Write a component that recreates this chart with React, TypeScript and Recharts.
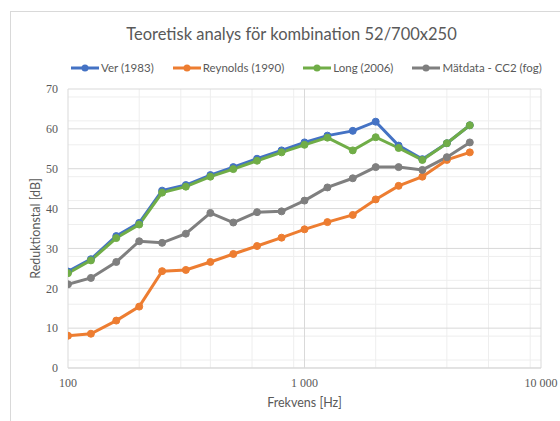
import React from 'react';
import { LineChart, Line, XAxis, YAxis, CartesianGrid, Label } from 'recharts';

const frequencies = [100, 125, 160, 200, 250, 315, 400, 500, 630, 800, 1000, 1250, 1600, 2000, 2500, 3150, 4000, 5000];
const ver = [24.2, 27.3, 33.1, 36.4, 44.5, 45.9, 48.4, 50.4, 52.5, 54.6, 56.6, 58.3, 59.5, 61.8, 55.8, 52.4, 56.4, 60.9];
const reynolds = [8.1, 8.6, 11.9, 15.4, 24.3, 24.6, 26.6, 28.6, 30.6, 32.7, 34.8, 36.6, 38.4, 42.3, 45.7, 48.0, 52.2, 54.1];
const long = [23.8, 27.0, 32.6, 36.0, 44.0, 45.5, 48.0, 49.9, 52.0, 54.1, 56.0, 57.8, 54.6, 57.9, 55.2, 52.2, 56.4, 60.9];
const matdata = [21.0, 22.6, 26.6, 31.8, 31.4, 33.7, 38.9, 36.5, 39.1, 39.3, 42.0, 45.3, 47.6, 50.4, 50.4, 49.7, 52.9, 56.6];

const xTicks = [100, 1000, 10000];
const xMinor = [200, 300, 400, 500, 600, 700, 800, 900, 2000, 3000, 4000, 5000, 6000, 7000, 8000, 9000];
const yTicks = [0, 10, 20, 30, 40, 50, 60, 70];
const yMinor = [2, 4, 6, 8, 12, 14, 16, 18, 22, 24, 26, 28, 32, 34, 36, 38, 42, 44, 46, 48, 52, 54, 56, 58, 62, 64, 66, 68];

const seriesNames = ['Ver (1983)', 'Reynolds (1990)', 'Long (2006)', 'Mätdata - CC2 (fog)'];
const seriesKeys = ['ver', 'reynolds', 'long', 'matdata'];
const seriesColors = ['#4472C4', '#ED7D31', '#70AD47', '#7F7F7F'];

const title = 'Teoretisk analys för kombination 52/700x250';
const xTitle = 'Frekvens [Hz]';
const yTitle = 'Reduktionstal [dB]';

const data = frequencies.map((f, i) => ({
  f,
  ver: ver[i],
  reynolds: reynolds[i],
  long: long[i],
  matdata: matdata[i],
}));

const fmt = (v: number) => String(v).replace(/\B(?=(\d{3})+(?!\d))/g, '\u00a0');

const SANS = 'Lato, "Liberation Sans", sans-serif';
const SERIF = '"Liberation Serif", serif';
const TEXT = '#595959';

export default function App() {
  return (
    <div style={{ position: 'absolute', left: 0, top: 0, width: 560, height: 421, background: '#fff', overflow: 'hidden' }}>
      <div style={{ position: 'absolute', left: 10, top: 11, width: 600, height: 500, border: '1px solid #d9d9d9', boxSizing: 'border-box' }} />
      <div style={{ position: 'absolute', left: 0, width: 583, top: 24, textAlign: 'center', fontFamily: SANS, fontSize: 16.5, color: TEXT, whiteSpace: 'nowrap' }}>
        {title}
      </div>
      <div style={{ position: 'absolute', left: 71, top: 61, display: 'flex', alignItems: 'center', fontFamily: SANS, fontSize: 11.5, color: TEXT, whiteSpace: 'nowrap' }}>
        {seriesNames.map((n, i) => (
          <div key={n} style={{ display: 'flex', alignItems: 'center', marginRight: 19 }}>
            <svg width={28} height={10} style={{ display: 'block' }}>
              <line x1={0} y1={5} x2={28} y2={5} stroke={seriesColors[i]} strokeWidth={3} />
              <circle cx={14} cy={5} r={3.5} fill={seriesColors[i]} />
            </svg>
            <span style={{ marginLeft: 2 }}>{n}</span>
          </div>
        ))}
      </div>
      <LineChart width={560} height={421} data={data} margin={{ top: 89, right: 19, bottom: 0, left: 0 }} style={{ position: 'absolute', left: 0, top: 0 }}>
        <CartesianGrid stroke="#eeeeee" strokeWidth={1} horizontalValues={yMinor} verticalValues={xMinor} />
        <CartesianGrid stroke="#d9d9d9" strokeWidth={1} />
        <XAxis
          dataKey="f"
          type="number"
          scale="log"
          domain={[100, 10000]}
          ticks={xTicks}
          allowDataOverflow
          tickFormatter={fmt}
          height={53}
          axisLine={{ stroke: '#d9d9d9' }}
          tickLine={false}
          tickMargin={4}
          tick={{ fontFamily: SERIF, fontSize: 12, fill: TEXT }}
        >
          <Label
            content={({ viewBox }: any) => (
              <text x={viewBox.x + viewBox.width / 2} y={407} textAnchor="middle" fontFamily={SANS} fontSize={12.5} fill={TEXT}>
                {xTitle}
              </text>
            )}
          />
        </XAxis>
        <YAxis
          type="number"
          domain={[0, 70]}
          ticks={yTicks}
          width={68}
          axisLine={false}
          tickLine={false}
          tickMargin={4}
          tick={{ fontFamily: SERIF, fontSize: 12, fill: TEXT }}
        >
          <Label
            content={({ viewBox }: any) => (
              <text
                x={35}
                y={viewBox.y + viewBox.height / 2}
                transform={`rotate(-90 35 ${viewBox.y + viewBox.height / 2})`}
                textAnchor="middle"
                dominantBaseline="central"
                fontFamily={SANS}
                fontSize={12.5}
                fill={TEXT}
              >
                {yTitle}
              </text>
            )}
          />
        </YAxis>
        {seriesKeys.map((k, i) => (
          <Line
            key={k}
            type="linear"
            dataKey={k}
            name={seriesNames[i]}
            stroke={seriesColors[i]}
            strokeWidth={3}
            dot={{ r: 3.5, fill: seriesColors[i], stroke: seriesColors[i], strokeWidth: 1 }}
            activeDot={false}
            isAnimationActive={false}
          />
        ))}
      </LineChart>
    </div>
  );
}
